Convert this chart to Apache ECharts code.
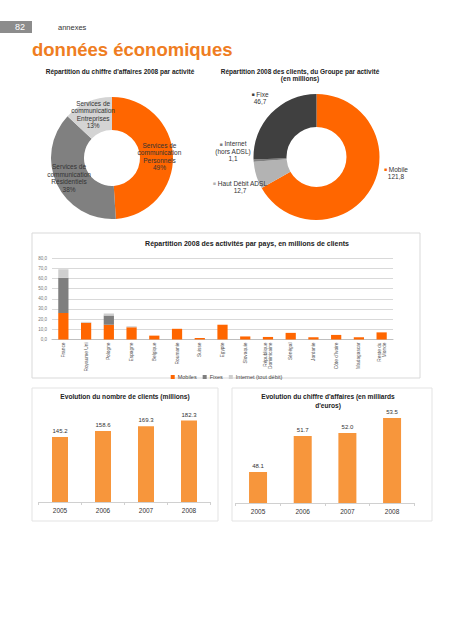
<!DOCTYPE html>
<html><head><meta charset="utf-8">
<script src="https://cdn.jsdelivr.net/npm/echarts@6/dist/echarts.min.js"></script>
<style>html,body{margin:0;padding:0;background:#fff}#c{width:453px;height:640px}</style>
</head><body><div id="c"></div>
<script>
// ---- data ----
const activityNames = ['Personnels', 'Résidentiels', 'Entreprises'];
const activityShare = [49, 38, 13];

const clientNames = ['Mobile', 'Haut Débit ADSL', 'Internet (hors ADSL)', 'Fixe'];
const clientValues = [121.8, 12.7, 1.1, 46.7];

const countries = ['France', 'Royaume Uni', 'Pologne', 'Espagne', 'Belgique', 'Roumanie', 'Suisse', 'Egypte', 'Slovaquie', 'République\nDominicaine', 'Sénégal', 'Jordanie', "Côte d'Ivoire", 'Madagascar', 'Reste du\nMonde'];
const mobiles = [26, 16.5, 14.5, 12, 3.8, 10.5, 1.5, 14.5, 3, 2.5, 6.5, 2.2, 4.5, 2.2, 7];
const fixes = [34.5, 0, 9, 0, 0, 0, 0, 0, 0, 0, 0, 0, 0, 0, 0];
const internet = [8.5, 0.8, 2, 1, 0, 0, 0, 0, 0, 0, 0, 0, 0, 0, 0];
const countryTicks = [0, 10, 20, 30, 40, 50, 60, 70, 80];

const years = ['2005', '2006', '2007', '2008'];
const customers = [145.2, 158.6, 169.3, 182.3];
const revenue = [48.1, 51.7, 52.0, 53.5];

// ---- chart ----
const FF = '"Liberation Sans", Arial, sans-serif';
const fr = v => String(v).replace('.', ',');
const chart = echarts.init(document.getElementById('c'), null, {renderer: 'svg'});
const pie2Pos = [[396, 173], [240, 187], [233, 151], [260, 98]];
const pie2Colors = ['#ff6600', '#b3b3b3', '#808080', '#404040'];

chart.setOption({
  animation: false,
  textStyle: {fontFamily: FF},
  graphic: [
    {type: 'rect', shape: {x: 0, y: 21, width: 32, height: 12}, style: {fill: '#8c8c8c'}},
    {type: 'text', x: 25, y: 27, style: {text: '82', fill: '#fff', font: '9px ' + FF, textAlign: 'right', textVerticalAlign: 'middle'}},
    {type: 'text', x: 58, y: 27, style: {text: 'annexes', fill: '#333', font: '7.5px ' + FF, textVerticalAlign: 'middle'}},
    {type: 'text', x: 32, y: 49, style: {text: 'données économiques', fill: '#ef7d22', font: 'bold 18.5px ' + FF, textVerticalAlign: 'middle'}},
    {type: 'text', x: 120, y: 71, style: {text: "Répartition du chiffre d'affaires 2008 par activité", fill: '#222', font: 'bold 6.5px ' + FF, textAlign: 'center', textVerticalAlign: 'middle'}},
    {type: 'text', x: 300, y: 71, style: {text: 'Répartition 2008 des clients, du Groupe par activité', fill: '#222', font: 'bold 6.5px ' + FF, textAlign: 'center', textVerticalAlign: 'middle'}},
    {type: 'text', x: 300, y: 78, style: {text: '(en millions)', fill: '#222', font: 'bold 6.5px ' + FF, textAlign: 'center', textVerticalAlign: 'middle'}},
    {type: 'rect', shape: {x: 32, y: 233, width: 388, height: 145}, style: {fill: 'none', stroke: '#d9d9d9', lineWidth: 1}},
    {type: 'text', x: 247, y: 243, style: {text: 'Répartition 2008 des activités par pays, en millions de clients', fill: '#222', font: 'bold 7px ' + FF, textAlign: 'center', textVerticalAlign: 'middle'}},
    {type: 'rect', shape: {x: 32, y: 388, width: 186, height: 133}, style: {fill: 'none', stroke: '#e3e3e3', lineWidth: 1}},
    {type: 'rect', shape: {x: 232, y: 388, width: 200, height: 133}, style: {fill: 'none', stroke: '#e3e3e3', lineWidth: 1}},
    {type: 'text', x: 125, y: 396, style: {text: 'Evolution du nombre de clients (millions)', fill: '#222', font: 'bold 6.6px ' + FF, textAlign: 'center', textVerticalAlign: 'middle'}},
    {type: 'text', x: 328, y: 396, style: {text: "Evolution du chiffre d'affaires (en milliards", fill: '#222', font: 'bold 6.6px ' + FF, textAlign: 'center', textVerticalAlign: 'middle'}},
    {type: 'text', x: 328, y: 405, style: {text: "d'euros)", fill: '#222', font: 'bold 6.6px ' + FF, textAlign: 'center', textVerticalAlign: 'middle'}}
  ],
  legend: {
    show: true, data: ['Mobiles', 'Fixes', 'Internet (tout débit)'],
    left: 'center', top: 369, itemWidth: 4, itemHeight: 4, itemGap: 6, icon: 'rect',
    textStyle: {fontSize: 5.5, color: '#444', padding: [0, 0, 0, -2]}
  },
  grid: [
    {left: 52, top: 258, width: 341, height: 81.5},
    {left: 38.5, top: 412.6, width: 172, height: 89.4},
    {left: 235.7, top: 403, width: 178.7, height: 100}
  ],
  xAxis: [
    {gridIndex: 0, type: 'category', data: countries,
      axisLine: {lineStyle: {color: '#bfbfbf'}}, axisTick: {show: false},
      axisLabel: {rotate: 90, fontSize: 4.8, color: '#555', interval: 0, lineHeight: 5, margin: 3}},
    {gridIndex: 1, type: 'category', data: years,
      axisLine: {lineStyle: {color: '#d0d0d0'}}, axisTick: {show: true, lineStyle: {color: '#d0d0d0'}, length: 3},
      axisLabel: {fontSize: 6.5, color: '#333', margin: 5}},
    {gridIndex: 2, type: 'category', data: years,
      axisLine: {lineStyle: {color: '#d0d0d0'}}, axisTick: {show: true, lineStyle: {color: '#d0d0d0'}, length: 3},
      axisLabel: {fontSize: 6.5, color: '#333', margin: 5}}
  ],
  yAxis: [
    {gridIndex: 0, type: 'value', min: countryTicks[0], max: countryTicks[countryTicks.length - 1], interval: 10,
      axisLine: {show: false}, axisTick: {show: false},
      splitLine: {lineStyle: {color: '#d9d9d9'}},
      axisLabel: {fontSize: 4.5, color: '#777', margin: 5, formatter: v => v.toFixed(1).replace('.', ',')}},
    {gridIndex: 1, type: 'value', min: 0, max: 200, show: false, splitLine: {show: false}},
    {gridIndex: 2, type: 'value', min: 45, max: 55, show: false, splitLine: {show: false}}
  ],
  series: [
    {type: 'pie', center: [112, 158], radius: [28, 61], startAngle: 90, clockwise: true,
      silent: true, color: ['#ff6600', '#808080', '#d4d4d4'],
      label: {position: 'inside', fontSize: 6.5, color: '#333', lineHeight: 7.5,
        formatter: p => 'Services de\ncommunication\n' + p.name + '\n' + p.value + '%'},
      data: activityNames.map((n, i) => ({name: n, value: activityShare[i]}))},
    {type: 'pie', center: [316.5, 157], radius: [30, 63], startAngle: 90, clockwise: true,
      silent: true, color: pie2Colors,
      label: {position: 'outside', fontSize: 6.5, color: '#333', lineHeight: 7.5, align: 'center',
        formatter: p => '{s' + p.dataIndex + '|■} ' + p.name.replace(' (', '\n(') + '\n' + fr(p.value),
        rich: {s0: {color: pie2Colors[0], fontSize: 5}, s1: {color: pie2Colors[1], fontSize: 5}, s2: {color: pie2Colors[2], fontSize: 5}, s3: {color: pie2Colors[3], fontSize: 5}}},
      labelLine: {show: false},
      labelLayout: p => ({x: pie2Pos[p.dataIndex][0], y: pie2Pos[p.dataIndex][1], align: 'center', verticalAlign: 'middle'}),
      data: clientNames.map((n, i) => ({name: n, value: clientValues[i]}))},
    {type: 'bar', name: 'Mobiles', stack: 'c', xAxisIndex: 0, yAxisIndex: 0, barWidth: '45%', data: mobiles, itemStyle: {color: '#ff6600'}, silent: true},
    {type: 'bar', name: 'Fixes', stack: 'c', xAxisIndex: 0, yAxisIndex: 0, barWidth: '45%', data: fixes, itemStyle: {color: '#7f7f7f'}, silent: true},
    {type: 'bar', name: 'Internet (tout débit)', stack: 'c', xAxisIndex: 0, yAxisIndex: 0, barWidth: '45%', data: internet, itemStyle: {color: '#cfcfcf'}, silent: true},
    {type: 'bar', xAxisIndex: 1, yAxisIndex: 1, barWidth: 16, data: customers, itemStyle: {color: '#f7963c'}, silent: true,
      label: {show: true, position: 'top', fontSize: 6, color: '#333', distance: 3}},
    {type: 'bar', xAxisIndex: 2, yAxisIndex: 2, barWidth: 18, data: revenue, itemStyle: {color: '#f7963c'}, silent: true,
      label: {show: true, position: 'top', fontSize: 6, color: '#333', distance: 3, formatter: p => p.value.toFixed(1)}}
  ]
});
</script></body></html>
